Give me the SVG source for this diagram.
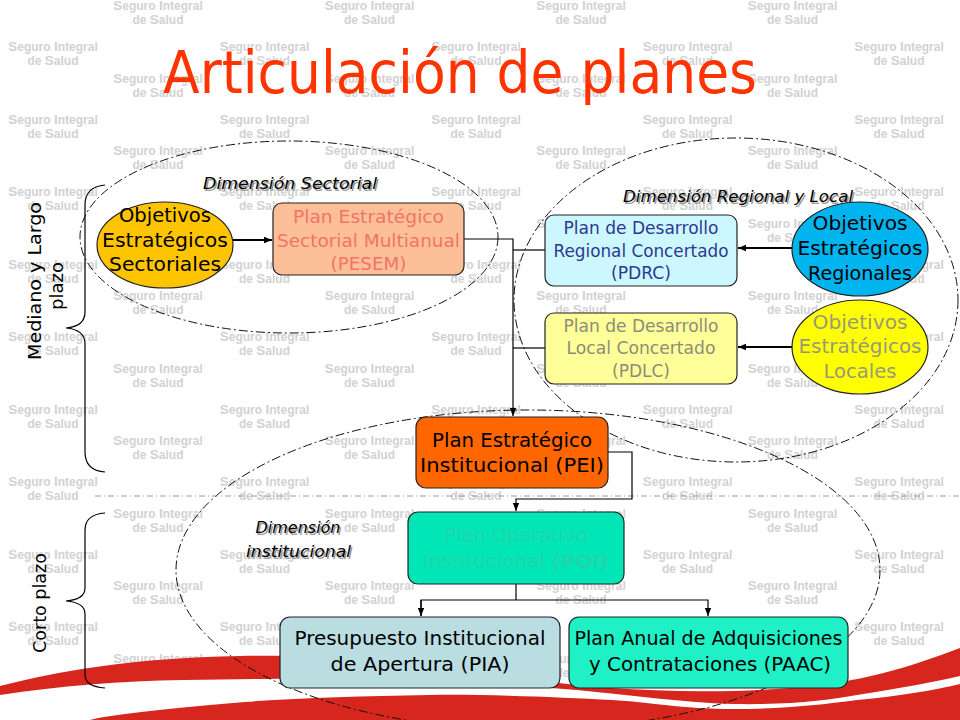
<svg xmlns="http://www.w3.org/2000/svg" width="960" height="720" viewBox="0 0 960 720">
<defs>
<style>
.wm{font-family:"Liberation Sans",Arial,sans-serif;font-weight:bold;font-size:12px;fill:#d2d2d2;text-anchor:middle}
.big{font-size:13.5px}
.t{font-family:"DejaVu Sans","Noto Sans",sans-serif;text-anchor:middle}
.node{stroke:#222;stroke-width:1.2}
.dim{fill:none;stroke:#111;stroke-width:1;stroke-dasharray:9 3 2 3}
.lbl{font-family:"DejaVu Sans","Noto Sans",sans-serif;font-style:italic;font-size:15px;text-anchor:middle;fill:#000}
.shadow{fill:#9a9a9a}
.conn{fill:none;stroke:#000;stroke-width:1.2}
.thick{stroke-width:2}
.brace{fill:none;stroke:#000;stroke-width:1.2}
</style>
<marker id="ah" viewBox="0 0 10 10" refX="10" refY="5" markerWidth="8" markerHeight="8" markerUnits="userSpaceOnUse" orient="auto">
<path d="M0,1 L10,5 L0,9 Z" fill="#000"/>
</marker>
<g id="wm">
<text class="wm" x="0" y="0"><tspan class="big">S</tspan>eguro <tspan class="big">I</tspan>ntegral</text>
<text class="wm" x="0" y="14">de <tspan class="big">S</tspan>alud</text>
</g>
</defs>
<rect width="960" height="720" fill="#fff"/>
<g id="watermark">
<use href="#wm" x="53" y="51"/><use href="#wm" x="264.5" y="51"/><use href="#wm" x="476" y="51"/><use href="#wm" x="687.5" y="51"/><use href="#wm" x="899" y="51"/>
<use href="#wm" x="53" y="123.5"/><use href="#wm" x="264.5" y="123.5"/><use href="#wm" x="476" y="123.5"/><use href="#wm" x="687.5" y="123.5"/><use href="#wm" x="899" y="123.5"/>
<use href="#wm" x="53" y="196"/><use href="#wm" x="264.5" y="196"/><use href="#wm" x="476" y="196"/><use href="#wm" x="687.5" y="196"/><use href="#wm" x="899" y="196"/>
<use href="#wm" x="53" y="268.5"/><use href="#wm" x="264.5" y="268.5"/><use href="#wm" x="476" y="268.5"/><use href="#wm" x="687.5" y="268.5"/><use href="#wm" x="899" y="268.5"/>
<use href="#wm" x="53" y="341"/><use href="#wm" x="264.5" y="341"/><use href="#wm" x="476" y="341"/><use href="#wm" x="687.5" y="341"/><use href="#wm" x="899" y="341"/>
<use href="#wm" x="53" y="413.5"/><use href="#wm" x="264.5" y="413.5"/><use href="#wm" x="476" y="413.5"/><use href="#wm" x="687.5" y="413.5"/><use href="#wm" x="899" y="413.5"/>
<use href="#wm" x="53" y="486"/><use href="#wm" x="264.5" y="486"/><use href="#wm" x="476" y="486"/><use href="#wm" x="687.5" y="486"/><use href="#wm" x="899" y="486"/>
<use href="#wm" x="53" y="558.5"/><use href="#wm" x="264.5" y="558.5"/><use href="#wm" x="476" y="558.5"/><use href="#wm" x="687.5" y="558.5"/><use href="#wm" x="899" y="558.5"/>
<use href="#wm" x="53" y="631"/><use href="#wm" x="264.5" y="631"/><use href="#wm" x="476" y="631"/><use href="#wm" x="687.5" y="631"/><use href="#wm" x="899" y="631"/>
<use href="#wm" x="53" y="703.5"/><use href="#wm" x="264.5" y="703.5"/><use href="#wm" x="476" y="703.5"/><use href="#wm" x="687.5" y="703.5"/><use href="#wm" x="899" y="703.5"/>
<use href="#wm" x="158" y="10"/><use href="#wm" x="369.5" y="10"/><use href="#wm" x="581" y="10"/><use href="#wm" x="792.5" y="10"/>
<use href="#wm" x="158" y="82.5"/><use href="#wm" x="369.5" y="82.5"/><use href="#wm" x="581" y="82.5"/><use href="#wm" x="792.5" y="82.5"/>
<use href="#wm" x="158" y="155"/><use href="#wm" x="369.5" y="155"/><use href="#wm" x="581" y="155"/><use href="#wm" x="792.5" y="155"/>
<use href="#wm" x="158" y="227.5"/><use href="#wm" x="369.5" y="227.5"/><use href="#wm" x="581" y="227.5"/><use href="#wm" x="792.5" y="227.5"/>
<use href="#wm" x="158" y="300"/><use href="#wm" x="369.5" y="300"/><use href="#wm" x="581" y="300"/><use href="#wm" x="792.5" y="300"/>
<use href="#wm" x="158" y="372.5"/><use href="#wm" x="369.5" y="372.5"/><use href="#wm" x="581" y="372.5"/><use href="#wm" x="792.5" y="372.5"/>
<use href="#wm" x="158" y="445"/><use href="#wm" x="369.5" y="445"/><use href="#wm" x="581" y="445"/><use href="#wm" x="792.5" y="445"/>
<use href="#wm" x="158" y="517.5"/><use href="#wm" x="369.5" y="517.5"/><use href="#wm" x="581" y="517.5"/><use href="#wm" x="792.5" y="517.5"/>
<use href="#wm" x="158" y="590"/><use href="#wm" x="369.5" y="590"/><use href="#wm" x="581" y="590"/><use href="#wm" x="792.5" y="590"/>
<use href="#wm" x="158" y="662.5"/><use href="#wm" x="369.5" y="662.5"/><use href="#wm" x="581" y="662.5"/><use href="#wm" x="792.5" y="662.5"/>
</g>
<g id="swoosh">
<path d="M0,686 C60,671 130,658 240,656 C350,654 440,665 520,678 C600,690 700,695 790,688 C860,683 910,667 960,648 L960,720 L0,720 Z" fill="#d7261e"/>
<path d="M0,695 C60,686 120,681 184,680 C260,679 320,678 367,680 C440,682 500,685 551,688 C620,693 680,703 735,704 C790,705 830,700 857,695 C900,688 935,682 960,676 L960,684 C935,690 900,696 857,700 C820,705 780,709 735,709 C680,709 650,702 612,700 C560,697 480,694 429,695 C360,696 300,698 245,702 C180,707 130,713 98,718 L90,720 L0,720 Z" fill="#fff"/>
</g>
<text id="title" x="460" y="93" font-family="DejaVu Sans, Noto Sans, sans-serif" font-size="58" fill="#ff3300" text-anchor="middle" textLength="594" lengthAdjust="spacingAndGlyphs">Articulación de planes</text>
<g id="dimensions">
<ellipse cx="289" cy="237" rx="209" ry="96" class="dim"/>
<ellipse cx="736" cy="300" rx="222" ry="162" class="dim"/>
<ellipse cx="528" cy="570" rx="352" ry="160" class="dim"/>
<line x1="95" y1="496" x2="960" y2="496" stroke="#9a9a9a" stroke-width="1" stroke-dasharray="6 3 1 3"/>
<text class="lbl shadow" x="291.5" y="190.5" textLength="174" lengthAdjust="spacingAndGlyphs">Dimensión Sectorial</text>
<text class="lbl" x="290" y="189" textLength="174" lengthAdjust="spacingAndGlyphs">Dimensión Sectorial</text>
<text class="lbl shadow" x="739.5" y="203.5" textLength="230" lengthAdjust="spacingAndGlyphs">Dimensión Regional y Local</text>
<text class="lbl" x="738" y="202" textLength="230" lengthAdjust="spacingAndGlyphs">Dimensión Regional y Local</text>
<text class="lbl shadow" x="299.5" y="534.5" textLength="85" lengthAdjust="spacingAndGlyphs">Dimensión</text>
<text class="lbl" x="298" y="533" textLength="85" lengthAdjust="spacingAndGlyphs">Dimensión</text>
<text class="lbl shadow" x="300" y="558.5" textLength="105" lengthAdjust="spacingAndGlyphs">institucional</text>
<text class="lbl" x="298.5" y="557" textLength="105" lengthAdjust="spacingAndGlyphs">institucional</text>
</g>
<g id="braces">
<path class="brace" d="M105,185 C92,186 85,192 85,205 L85,312 C85,322 78,327 66,328 C78,329 85,334 85,344 L85,452 C85,465 92,471 105,472"/>
<path class="brace" d="M105,513 C92,514 85,520 85,530 L85,588 C85,596 78,600 66,601 C78,602 85,606 85,614 L85,675 C85,683 92,687 105,688"/>
<text class="t" font-size="18" transform="translate(41,281) rotate(-90)" textLength="158" lengthAdjust="spacingAndGlyphs">Mediano y Largo</text>
<text class="t" font-size="18" transform="translate(63,286) rotate(-90)">plazo</text>
<text class="t" font-size="18" transform="translate(46,603) rotate(-90)" textLength="100" lengthAdjust="spacingAndGlyphs">Corto plazo</text>
</g>
<g id="connectors">
<line class="conn thick" x1="233" y1="240" x2="272" y2="240" marker-end="url(#ah)"/>
<polyline class="conn" points="464,239 513,239 513,416" marker-end="url(#ah)"/>
<line class="conn" x1="545" y1="250" x2="513" y2="250"/>
<line class="conn" x1="545" y1="348" x2="513" y2="348"/>
<line class="conn thick" x1="793" y1="248" x2="738" y2="248" marker-end="url(#ah)"/>
<line class="conn thick" x1="793" y1="347" x2="738" y2="347" marker-end="url(#ah)"/>
<polyline class="conn" points="608,452 632,452 632,499 516,499 516,511" marker-end="url(#ah)"/>
<line class="conn" x1="516" y1="584" x2="516" y2="600"/>
<polyline class="conn" points="421,616 421,600 708,600 708,616" marker-end="url(#ah)"/>
<line class="conn" x1="421" y1="600" x2="421" y2="616" marker-end="url(#ah)"/>
</g>
<g id="n-oes">
<ellipse class="node" cx="165" cy="245" rx="68" ry="43" fill="#ffc400"/>
<text class="t" font-size="20" fill="#000"><tspan x="165" y="222" textLength="92" lengthAdjust="spacingAndGlyphs">Objetivos</tspan><tspan x="165" y="247" textLength="126" lengthAdjust="spacingAndGlyphs">Estratégicos</tspan><tspan x="165" y="271" textLength="112" lengthAdjust="spacingAndGlyphs">Sectoriales</tspan></text>
</g>
<g id="n-pesem">
<rect class="node" x="273" y="203" width="191" height="72" rx="9" fill="#fcbf98"/>
<text class="t" font-size="18" fill="#f27368"><tspan x="368.5" y="223" textLength="151" lengthAdjust="spacingAndGlyphs">Plan Estratégico</tspan><tspan x="368.5" y="247" textLength="183" lengthAdjust="spacingAndGlyphs">Sectorial Multianual</tspan><tspan x="368.5" y="270" textLength="76" lengthAdjust="spacingAndGlyphs">(PESEM)</tspan></text>
</g>
<g id="n-pdrc">
<rect class="node" x="545" y="215" width="192" height="71" rx="9" fill="#ccf7ff"/>
<text class="t" font-size="17" fill="#2b3990"><tspan x="641" y="234" textLength="155" lengthAdjust="spacingAndGlyphs">Plan de Desarrollo</tspan><tspan x="641" y="257" textLength="175" lengthAdjust="spacingAndGlyphs">Regional Concertado</tspan><tspan x="641" y="279" textLength="60" lengthAdjust="spacingAndGlyphs">(PDRC)</tspan></text>
</g>
<g id="n-pdlc">
<rect class="node" x="545" y="313" width="192" height="71" rx="9" fill="#ffff99"/>
<text class="t" font-size="17" fill="#8c8c7a"><tspan x="641" y="332" textLength="155" lengthAdjust="spacingAndGlyphs">Plan de Desarrollo</tspan><tspan x="641" y="354" textLength="149" lengthAdjust="spacingAndGlyphs">Local Concertado</tspan><tspan x="641" y="377" textLength="58" lengthAdjust="spacingAndGlyphs">(PDLC)</tspan></text>
</g>
<g id="n-oer">
<ellipse class="node" cx="860" cy="249" rx="68" ry="47" fill="#00b4ef"/>
<text class="t" font-size="20" fill="#000"><tspan x="860" y="230" textLength="95" lengthAdjust="spacingAndGlyphs">Objetivos</tspan><tspan x="860" y="255" textLength="125" lengthAdjust="spacingAndGlyphs">Estratégicos</tspan><tspan x="860" y="280" textLength="104" lengthAdjust="spacingAndGlyphs">Regionales</tspan></text>
</g>
<g id="n-oel">
<ellipse class="node" cx="860" cy="347" rx="68" ry="47" fill="#ffff00"/>
<text class="t" font-size="20" fill="#99997a"><tspan x="860" y="329" textLength="95" lengthAdjust="spacingAndGlyphs">Objetivos</tspan><tspan x="860" y="353" textLength="123" lengthAdjust="spacingAndGlyphs">Estratégicos</tspan><tspan x="860" y="378" textLength="73" lengthAdjust="spacingAndGlyphs">Locales</tspan></text>
</g>
<g id="n-pei">
<rect class="node" x="416" y="417" width="192" height="71" rx="10" fill="#ff6600"/>
<text class="t" font-size="20" fill="#000"><tspan x="512" y="447" textLength="160" lengthAdjust="spacingAndGlyphs">Plan Estratégico</tspan><tspan x="512" y="472" textLength="184" lengthAdjust="spacingAndGlyphs">Institucional (PEI)</tspan></text>
</g>
<g id="n-poi">
<rect class="node" x="408" y="512" width="216" height="72" rx="10" fill="#00e6b6"/>
<text class="t" font-size="20" fill="#1fd6aa"><tspan x="516" y="542" textLength="143" lengthAdjust="spacingAndGlyphs">Plan Operativo</tspan><tspan x="516" y="568" textLength="186" lengthAdjust="spacingAndGlyphs">Institucional <tspan font-weight="bold">(POI)</tspan></tspan></text>
</g>
<g id="n-pia">
<rect class="node" x="280" y="617" width="280" height="71" rx="10" fill="#b9dde1"/>
<text class="t" font-size="20" fill="#000"><tspan x="420" y="645" textLength="251" lengthAdjust="spacingAndGlyphs">Presupuesto Institucional</tspan><tspan x="420" y="671" textLength="179" lengthAdjust="spacingAndGlyphs">de Apertura (PIA)</tspan></text>
</g>
<g id="n-paac">
<rect class="node" x="569" y="617" width="279" height="71" rx="10" fill="#1ff0c6"/>
<text class="t" font-size="19" fill="#000"><tspan x="708.5" y="645" textLength="268" lengthAdjust="spacingAndGlyphs">Plan Anual de Adquisiciones</tspan><tspan x="710" y="671" textLength="242" lengthAdjust="spacingAndGlyphs">y Contrataciones (PAAC)</tspan></text>
</g>
</svg>
